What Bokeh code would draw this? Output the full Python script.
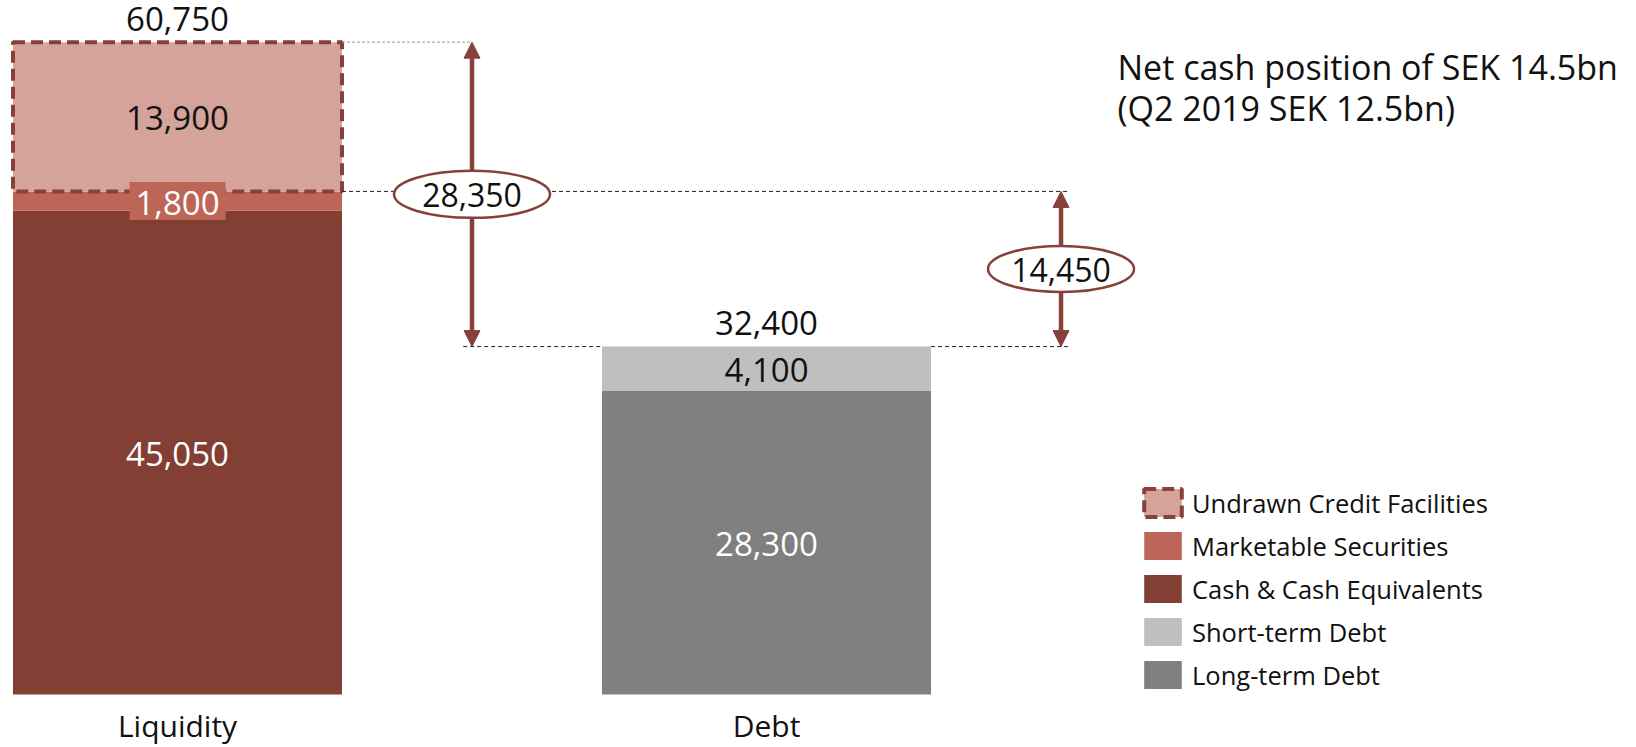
from bokeh.plotting import figure
from bokeh.models import ColumnDataSource, Range1d, Arrow, NormalHead, Legend, LegendItem
from bokeh.core.properties import value
from bokeh.embed import file_html
from bokeh.resources import INLINE

# ---------------- data ----------------
categories = ["Liquidity", "Debt"]
cash_equivalents = [45050, 0]
marketable_securities = [1800, 0]
undrawn_credit = [13900, 0]
short_term_debt = [0, 4100]
long_term_debt = [0, 28300]
totals = [60750, 32400]
net_liquidity = 28350
net_cash = 14450
legend_labels = ["Undrawn Credit Facilities", "Marketable Securities",
                 "Cash & Cash Equivalents", "Short-term Debt", "Long-term Debt"]
note_lines = ["Net cash position of SEK 14.5bn", "(Q2 2019 SEK 12.5bn)"]

# ---------------- style ----------------
C_UNDRAWN = "#D6A39A"
C_EDGE = "#87413A"
C_MARKET = "#BD6658"
C_CASH = "#843F35"
C_SHORT = "#BFBFBF"
C_LONG = "#808080"
FONT = "Open Sans"
TXT = "#111111"

W, H = 1636, 747
Y0, Y1 = -4936, 64630          # maps value 0 to the bars' base line
X0, X1 = -0.3005, 2.477
BW = 0.5586

def fmt(v):
    return f"{v:,}"

def xpx(px):
    return X0 + px / W * (X1 - X0)

def ypx(py):
    return Y1 - py / H * (Y1 - Y0)

p = figure(width=W, height=H, output_backend="svg", toolbar_location=None,
           x_range=Range1d(X0, X1), y_range=Range1d(Y0, Y1),
           min_border=0, border_fill_color="white", outline_line_color=None)
p.axis.visible = False
p.grid.visible = False

xs = list(range(len(categories)))
liq, debt = xs[0], xs[1]

# ---------------- bars ----------------
cash_t = [cash_equivalents[i] for i in xs]
mkt_t = [cash_t[i] + marketable_securities[i] for i in xs]
und_t = [mkt_t[i] + undrawn_credit[i] for i in xs]
lt_t = [long_term_debt[i] for i in xs]
st_t = [lt_t[i] + short_term_debt[i] for i in xs]

r_cash = p.quad(left=[liq - BW / 2], right=[liq + BW / 2], bottom=[0], top=[cash_t[liq]],
                fill_color=C_CASH, line_color=None)
r_mkt = p.quad(left=[liq - BW / 2], right=[liq + BW / 2], bottom=[cash_t[liq]], top=[mkt_t[liq]],
               fill_color=C_MARKET, line_color=None)
r_und = p.quad(left=[liq - BW / 2], right=[liq + BW / 2], bottom=[mkt_t[liq]], top=[und_t[liq]],
               fill_color=C_UNDRAWN, line_color=C_EDGE, line_width=4, line_dash="12 6")
r_lt = p.quad(left=[debt - BW / 2], right=[debt + BW / 2], bottom=[0], top=[lt_t[debt]],
              fill_color=C_LONG, line_color=None)
r_st = p.quad(left=[debt - BW / 2], right=[debt + BW / 2], bottom=[lt_t[debt]], top=[st_t[debt]],
              fill_color=C_SHORT, line_color=None)

# ---------------- guide lines ----------------
ax1 = liq + 0.5
ax2 = debt + 0.5
p.segment(x0=[liq + BW / 2], y0=[totals[liq]], x1=[ax1], y1=[totals[liq]],
          line_color="#9A9A9A", line_width=1, line_dash="3 2")
p.segment(x0=[liq + BW / 2], y0=[mkt_t[liq]], x1=[ax2 + 0.015], y1=[mkt_t[liq]],
          line_color="#222222", line_width=1, line_dash="4 3")
p.segment(x0=[ax1 - 0.015, debt + BW / 2], y0=[totals[debt]] * 2,
          x1=[debt - BW / 2, ax2 + 0.015], y1=[totals[debt]] * 2,
          line_color="#222222", line_width=1, line_dash="4 3")

# ---------------- arrows ----------------
for ax, lo, hi in [(ax1, totals[debt], totals[liq]), (ax2, totals[debt], mkt_t[liq])]:
    p.add_layout(Arrow(x_start=ax, y_start=lo, x_end=ax, y_end=hi,
                       line_color=C_EDGE, line_width=4.5, level="underlay",
                       start=NormalHead(size=16, fill_color=C_EDGE, line_color=C_EDGE, line_width=1),
                       end=NormalHead(size=16, fill_color=C_EDGE, line_color=C_EDGE, line_width=1)))

ell = ColumnDataSource(dict(
    x=[ax1, ax2],
    y=[(totals[liq] + totals[debt]) / 2, (mkt_t[liq] + totals[debt]) / 2],
    w=[156, 146],
    h=[47, 46],
    t=[fmt(net_liquidity), fmt(net_cash)],
))
p.ellipse(x="x", y="y", width="w", height="h", width_units="screen", height_units="screen",
          source=ell, fill_color="white", line_color=C_EDGE, line_width=2.5)
p.text(x="x", y="y", text="t", source=ell, y_offset=0.5, text_align="center",
       text_baseline="alphabetic", text_font=value(FONT), text_font_size="32px",
       text_color=TXT)

# ---------------- value labels ----------------
p.rect(x=[liq], y=[(cash_t[liq] + mkt_t[liq]) / 2], width=96, height=38,
       width_units="screen", height_units="screen", fill_color=C_MARKET, line_color=None)

lab = ColumnDataSource(dict(
    x=[liq, liq, liq, debt, debt],
    y=[(mkt_t[liq] + und_t[liq]) / 2, (cash_t[liq] + mkt_t[liq]) / 2, cash_t[liq] / 2,
       (lt_t[debt] + st_t[debt]) / 2, lt_t[debt] / 2],
    t=[fmt(undrawn_credit[liq]), fmt(marketable_securities[liq]), fmt(cash_equivalents[liq]),
       fmt(short_term_debt[debt]), fmt(long_term_debt[debt])],
    c=[TXT, "white", "white", TXT, "white"],
))
p.text(x="x", y="y", text="t", text_color="c", source=lab, y_offset=1.5, text_align="center",
       text_baseline="alphabetic", text_font=value(FONT), text_font_size="33px")

tot = ColumnDataSource(dict(x=xs, y=totals, t=[fmt(v) for v in totals]))
p.text(x="x", y="y", text="t", source=tot, y_offset=-23.5, text_align="center",
       text_baseline="alphabetic", text_font=value(FONT), text_font_size="33px",
       text_color=TXT)

cat = ColumnDataSource(dict(x=xs, y=[0, 0], t=categories))
p.text(x="x", y="y", text="t", source=cat, y_offset=31.5, text_align="center",
       text_baseline="alphabetic", text_font=value(FONT), text_font_size="30px",
       text_color=TXT)

# ---------------- note ----------------
note = ColumnDataSource(dict(x=[xpx(1117)] * 2, y=[ypx(66.5), ypx(107.5)], t=note_lines))
p.text(x="x", y="y", text="t", source=note, text_align="left", text_baseline="alphabetic",
       text_font=value(FONT), text_font_size="34px", text_color=TXT)

# ---------------- legend ----------------
legend = Legend(items=[LegendItem(label=legend_labels[0], renderers=[r_und]),
                       LegendItem(label=legend_labels[1], renderers=[r_mkt]),
                       LegendItem(label=legend_labels[2], renderers=[r_cash]),
                       LegendItem(label=legend_labels[3], renderers=[r_st]),
                       LegendItem(label=legend_labels[4], renderers=[r_lt])],
                location=(1139, 55), glyph_width=47, glyph_height=35, spacing=8,
                label_standoff=6, padding=0, margin=0, border_line_color=None,
                background_fill_alpha=0, label_text_font=FONT, label_text_font_size="25.5px",
                label_text_color=TXT, label_height=35)
p.add_layout(legend, "center")

open("out.html", "w").write(file_html(p, INLINE))
